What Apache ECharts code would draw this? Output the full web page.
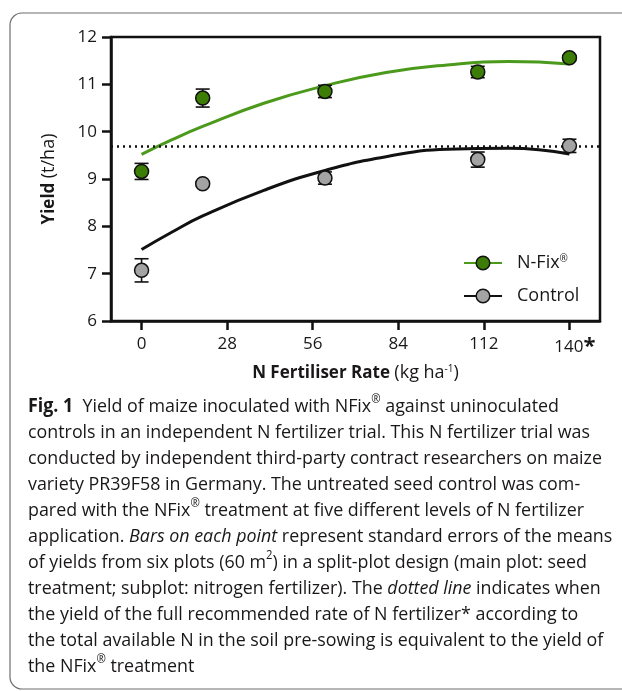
<!DOCTYPE html>
<html>
<head>
<meta charset="utf-8">
<script src="https://cdn.jsdelivr.net/npm/echarts@6/dist/echarts.min.js"></script>
<style>
  html, body { margin: 0; padding: 0; background: #fff; }
  #main { width: 622px; height: 691px; }
</style>
</head>
<body>
<div id="main"></div>
<script>
// N rates (kg/ha) of the trial and the mean yields
var rates = [0, 20, 60, 110, 140];
var nfixMean = [9.16, 10.71, 10.85, 11.26, 11.56];
var nfixSE = [0.17, 0.19, 0.13, 0.12, 0.05];
var controlMean = [7.07, 8.90, 9.02, 9.41, 9.70];
var controlSE = [0.245, 0.04, 0.13, 0.16, 0.14];

// fitted curves
var fitRates = [0, 10, 20, 40, 60, 80, 100, 120, 140];
var nfixFit = [9.52, 9.83, 10.11, 10.60, 10.97, 11.25, 11.41, 11.48, 11.43];
var controlFit = [7.51, 7.88, 8.22, 8.76, 9.18, 9.47, 9.63, 9.65, 9.53];

var dottedLevel = 9.70;
var xTicks = [0, 28, 56, 84, 112, 140];

var captionLines = [
  '{b|Fig. 1}  Yield of maize inoculated with NFix{sup|®} against uninoculated',
  'controls in an independent N fertilizer trial. This N fertilizer trial was',
  'conducted by independent third-party contract researchers on maize',
  'variety PR39F58 in Germany. The untreated seed control was com-',
  'pared with the NFix{sup|®} treatment at five different levels of N fertilizer',
  'application. {i|Bars on each point} represent standard errors of the means',
  'of yields from six plots (60 m{sup|2}) in a split-plot design (main plot: seed',
  'treatment; subplot: nitrogen fertilizer). The {i|dotted line} indicates when',
  'the yield of the full recommended rate of N fertilizer* according to',
  'the total available N in the soil pre-sowing is equivalent to the yield of',
  'the NFix{sup|®} treatment'
];

var GREEN_LINE = '#4b9a1c';
var GREEN_DOT = '#3c7d06';
var GREY_DOT = '#a3a3a3';
var INK = '#1a1718';
var FONT = '"Open Sans", "Noto Sans", sans-serif';

function pairs(xs, ys) {
  var out = [];
  for (var i = 0; i < xs.length; i++) out.push([xs[i], ys[i]]);
  return out;
}

function errData(means, ses) {
  var out = [];
  for (var i = 0; i < rates.length; i++) {
    out.push([rates[i], means[i] - ses[i], means[i] + ses[i]]);
  }
  return out;
}

//误差线
function errorBarItem(params, api) {
  var x = api.value(0);
  var top = api.coord([x, api.value(2)]);
  var bot = api.coord([x, api.value(1)]);
  var w = 7;
  var style = { stroke: '#111', lineWidth: 1.6 };
  return {
    type: 'group',
    children: [
      { type: 'line', shape: { x1: top[0], y1: top[1], x2: bot[0], y2: bot[1] }, style: style },
      { type: 'line', shape: { x1: top[0] - w, y1: top[1], x2: top[0] + w, y2: top[1] }, style: style },
      { type: 'line', shape: { x1: bot[0] - w, y1: bot[1], x2: bot[0] + w, y2: bot[1] }, style: style }
    ]
  };
}

function measureWidth(text, font) {
  var ctx = document.createElement('canvas').getContext('2d');
  ctx.font = font;
  return ctx.measureText(text).width;
}

var capScale = 574 / measureWidth(captionLines[2], '19px ' + FONT);

function txt(extra) {
  var s = { fontSize: 17, color: INK, fontFamily: FONT };
  for (var k in extra) s[k] = extra[k];
  return s;
}

var myChart = echarts.init(document.getElementById('main'));
var option = {
  backgroundColor: '#fff',
  animation: false,
  textStyle: { fontFamily: FONT },
  grid: {
    left: 111, right: 22, top: 37, bottom: 370,
    show: true, borderColor: '#111', borderWidth: 2.5, backgroundColor: 'transparent'
  },
  legend: {
    orient: 'vertical',
    left: 458, top: 249,
    itemWidth: 38, itemHeight: 17, itemGap: 15,
    selectedMode: false,
    data: [
      { name: 'N-Fix', itemStyle: { color: GREEN_DOT, borderColor: '#111', borderWidth: 1.5 } },
      { name: 'Control', itemStyle: { color: GREY_DOT, borderColor: '#111', borderWidth: 1.5 } }
    ],
    formatter: function (name) {
      return name === 'N-Fix' ? '{g|}{n|N-Fix}{s|®}' : '{g|}{n|' + name + '}';
    },
    textStyle: txt({
      rich: {
        g: { width: 10 },
        n: txt({ fontSize: 18 }),
        s: txt({ fontSize: 10, verticalAlign: 'top' })
      }
    })
  },
  xAxis: {
    type: 'value', min: -10, max: 150,
    name: '{b|N Fertiliser Rate} {n|(kg ha}{s|-1}{n|)}',
    nameLocation: 'middle', nameGap: 43,
    nameTextStyle: txt({
      rich: {
        b: txt({ fontWeight: 'bold' }),
        n: txt({ fontSize: 18 }),
        s: txt({ fontSize: 10, verticalAlign: 'top' })
      }
    }),
    axisLine: { onZero: false, lineStyle: { color: '#111', width: 2.5 } },
    axisTick: { customValues: xTicks, length: 9, lineStyle: { color: '#111', width: 2.5 } },
    axisLabel: {
      customValues: xTicks, margin: 15, fontSize: 17, color: INK, fontFamily: FONT,
      formatter: function (v) {
        return v === 140 ? '{p|}{n|140}{a|*}' : '{n|' + v + '}';
      },
      rich: {
        p: { width: 11 },
        n: txt({}),
        a: txt({ fontSize: 22, fontWeight: 'bold', verticalAlign: 'top' })
      }
    },
    splitLine: { show: false }
  },
  yAxis: {
    type: 'value', min: 6, max: 12, interval: 1,
    name: '{b|Yield} {n|(t/ha)}',
    nameLocation: 'middle', nameGap: 53,
    nameTextStyle: txt({
      rich: {
        b: txt({ fontWeight: 'bold' }),
        n: txt({ fontSize: 18 })
      }
    }),
    axisLine: { show: true, onZero: false, lineStyle: { color: '#111', width: 2.5 } },
    axisTick: { show: true, length: 9, lineStyle: { color: '#111', width: 2.5 } },
    axisLabel: { margin: 14, fontSize: 17, color: INK, fontFamily: FONT },
    splitLine: { show: false }
  },
  series: [
    {
      name: 'N-Fix', type: 'line', data: pairs(fitRates, nfixFit),
      smooth: true, symbol: 'none', z: 3,
      lineStyle: { color: GREEN_LINE, width: 3 },
      itemStyle: { color: GREEN_DOT },
      markLine: {
        silent: true, symbol: 'none', label: { show: false },
        lineStyle: { color: '#111', type: [2, 4], width: 2.5 },
        data: [{ yAxis: dottedLevel }]
      }
    },
    {
      name: 'Control', type: 'line', data: pairs(fitRates, controlFit),
      smooth: true, symbol: 'none', z: 3,
      lineStyle: { color: '#111', width: 3 },
      itemStyle: { color: GREY_DOT }
    },
    {
      name: 'nfixErr', type: 'custom', renderItem: errorBarItem,
      data: errData(nfixMean, nfixSE), encode: { x: 0, y: [1, 2] }, z: 4
    },
    {
      name: 'controlErr', type: 'custom', renderItem: errorBarItem,
      data: errData(controlMean, controlSE), encode: { x: 0, y: [1, 2] }, z: 4
    },
    {
      name: 'nfixMean', type: 'scatter', data: pairs(rates, nfixMean),
      symbolSize: 14, z: 5,
      itemStyle: { color: GREEN_DOT, borderColor: '#111', borderWidth: 1.5, opacity: 1 }
    },
    {
      name: 'controlMean', type: 'scatter', data: pairs(rates, controlMean),
      symbolSize: 14, z: 5,
      itemStyle: { color: GREY_DOT, borderColor: '#111', borderWidth: 1.5, opacity: 1 }
    }
  ],
  graphic: [
    {
      type: 'rect', z: -1, silent: true,
      shape: { x: 10, y: 13, width: 640, height: 676, r: 12 },
      style: { fill: 'none', stroke: '#6d6e71', lineWidth: 1.2 }
    },
    {
      type: 'group', x: 28, y: 394, scaleX: capScale, silent: true,
      children: [{
        type: 'text', x: 0, y: 0,
        style: {
          text: captionLines.join('\n'),
          fill: INK, fontSize: 19, fontFamily: FONT, lineHeight: 26,
          verticalAlign: 'top',
          rich: {
            b: { fontSize: 19, fontWeight: 'bold', fontFamily: FONT, fill: INK, lineHeight: 26 },
            i: { fontSize: 19, fontStyle: 'italic', fontFamily: FONT, fill: INK, lineHeight: 26 },
            sup: { fontSize: 12, verticalAlign: 'top', fontFamily: FONT, fill: INK, lineHeight: 20 }
          }
        }
      }]
    }
  ]
};
myChart.setOption(option);
</script>
</body>
</html>
